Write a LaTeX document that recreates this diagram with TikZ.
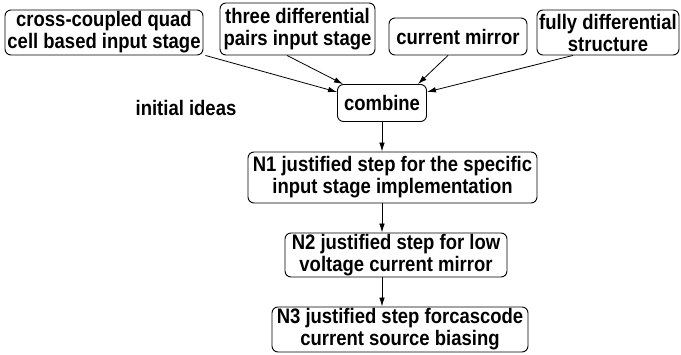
\documentclass[tikz,border=0pt]{standalone}
\usepackage{fontspec}
\setmainfont{Liberation Sans}
% slightly narrowed, tall bold sans for all labels
\newfontfamily\labelfont[FakeStretch=0.88]{Liberation Sans}
\usetikzlibrary{arrows.meta}
\begin{document}
\begin{tikzpicture}[x=1pt,y=-1pt,
  lbl/.style={font=\labelfont\fontsize{21}{22}\selectfont\bfseries},
  box/.style={lbl,draw,line width=0.9pt,rounded corners=6pt,inner sep=0pt,align=center},
  arr/.style={line width=0.8pt,-{Latex[length=9pt,width=5.5pt]}}]
\useasboundingbox (0,0) rectangle (681,354);
% source ideas
\node[box,minimum width=198pt,minimum height=45pt] (quad) at (104,32.5) {cross-coupled quad\\cell based input stage};
\node[box,minimum width=155pt,minimum height=52pt] (three) at (297.5,29) {three differential\\pairs input stage};
\node[box,minimum width=138pt,minimum height=37pt] (mirror) at (458,36.5) {current mirror};
\node[box,minimum width=142pt,minimum height=45pt] (fully) at (608,32.5) {fully differential\\structure};
\node[lbl] (ideas) at (186,108) {initial ideas};
% combination and refinement steps
\node[box,minimum width=89pt,minimum height=37pt] (combine) at (382,103) {combine};
\node[box,minimum width=289pt,minimum height=51pt] (n1) at (392.5,177.5) {N1 justified step for the specific\\input stage implementation};
\node[box,minimum width=222pt,minimum height=44pt] (n2) at (396,255) {N2 justified step for low\\voltage current mirror};
\node[box,minimum width=256pt,minimum height=45pt] (n3) at (400,329.5) {N3 justified step forcascode\\current source biasing};
% connectors
\coordinate (spine) at (382,0);
\draw[arr] (quad.south east) ++(2,0) -- (combine.west |- 0,92);
\draw[arr] (three.south -| 287,0) -- (combine.north -| 343,0);
\draw[arr] (mirror.south -| 448,0) -- (combine.north -| 418,0);
\draw[arr] (fully.south -| 573,0) -- (combine.east |- 0,92);
\draw[arr] (combine.south -| spine) -- (n1.north -| spine);
\draw[arr] (n1.south -| spine) -- (n2.north -| spine);
\draw[arr] (n2.south -| spine) -- (n3.north -| spine);
\end{tikzpicture}
\end{document}
